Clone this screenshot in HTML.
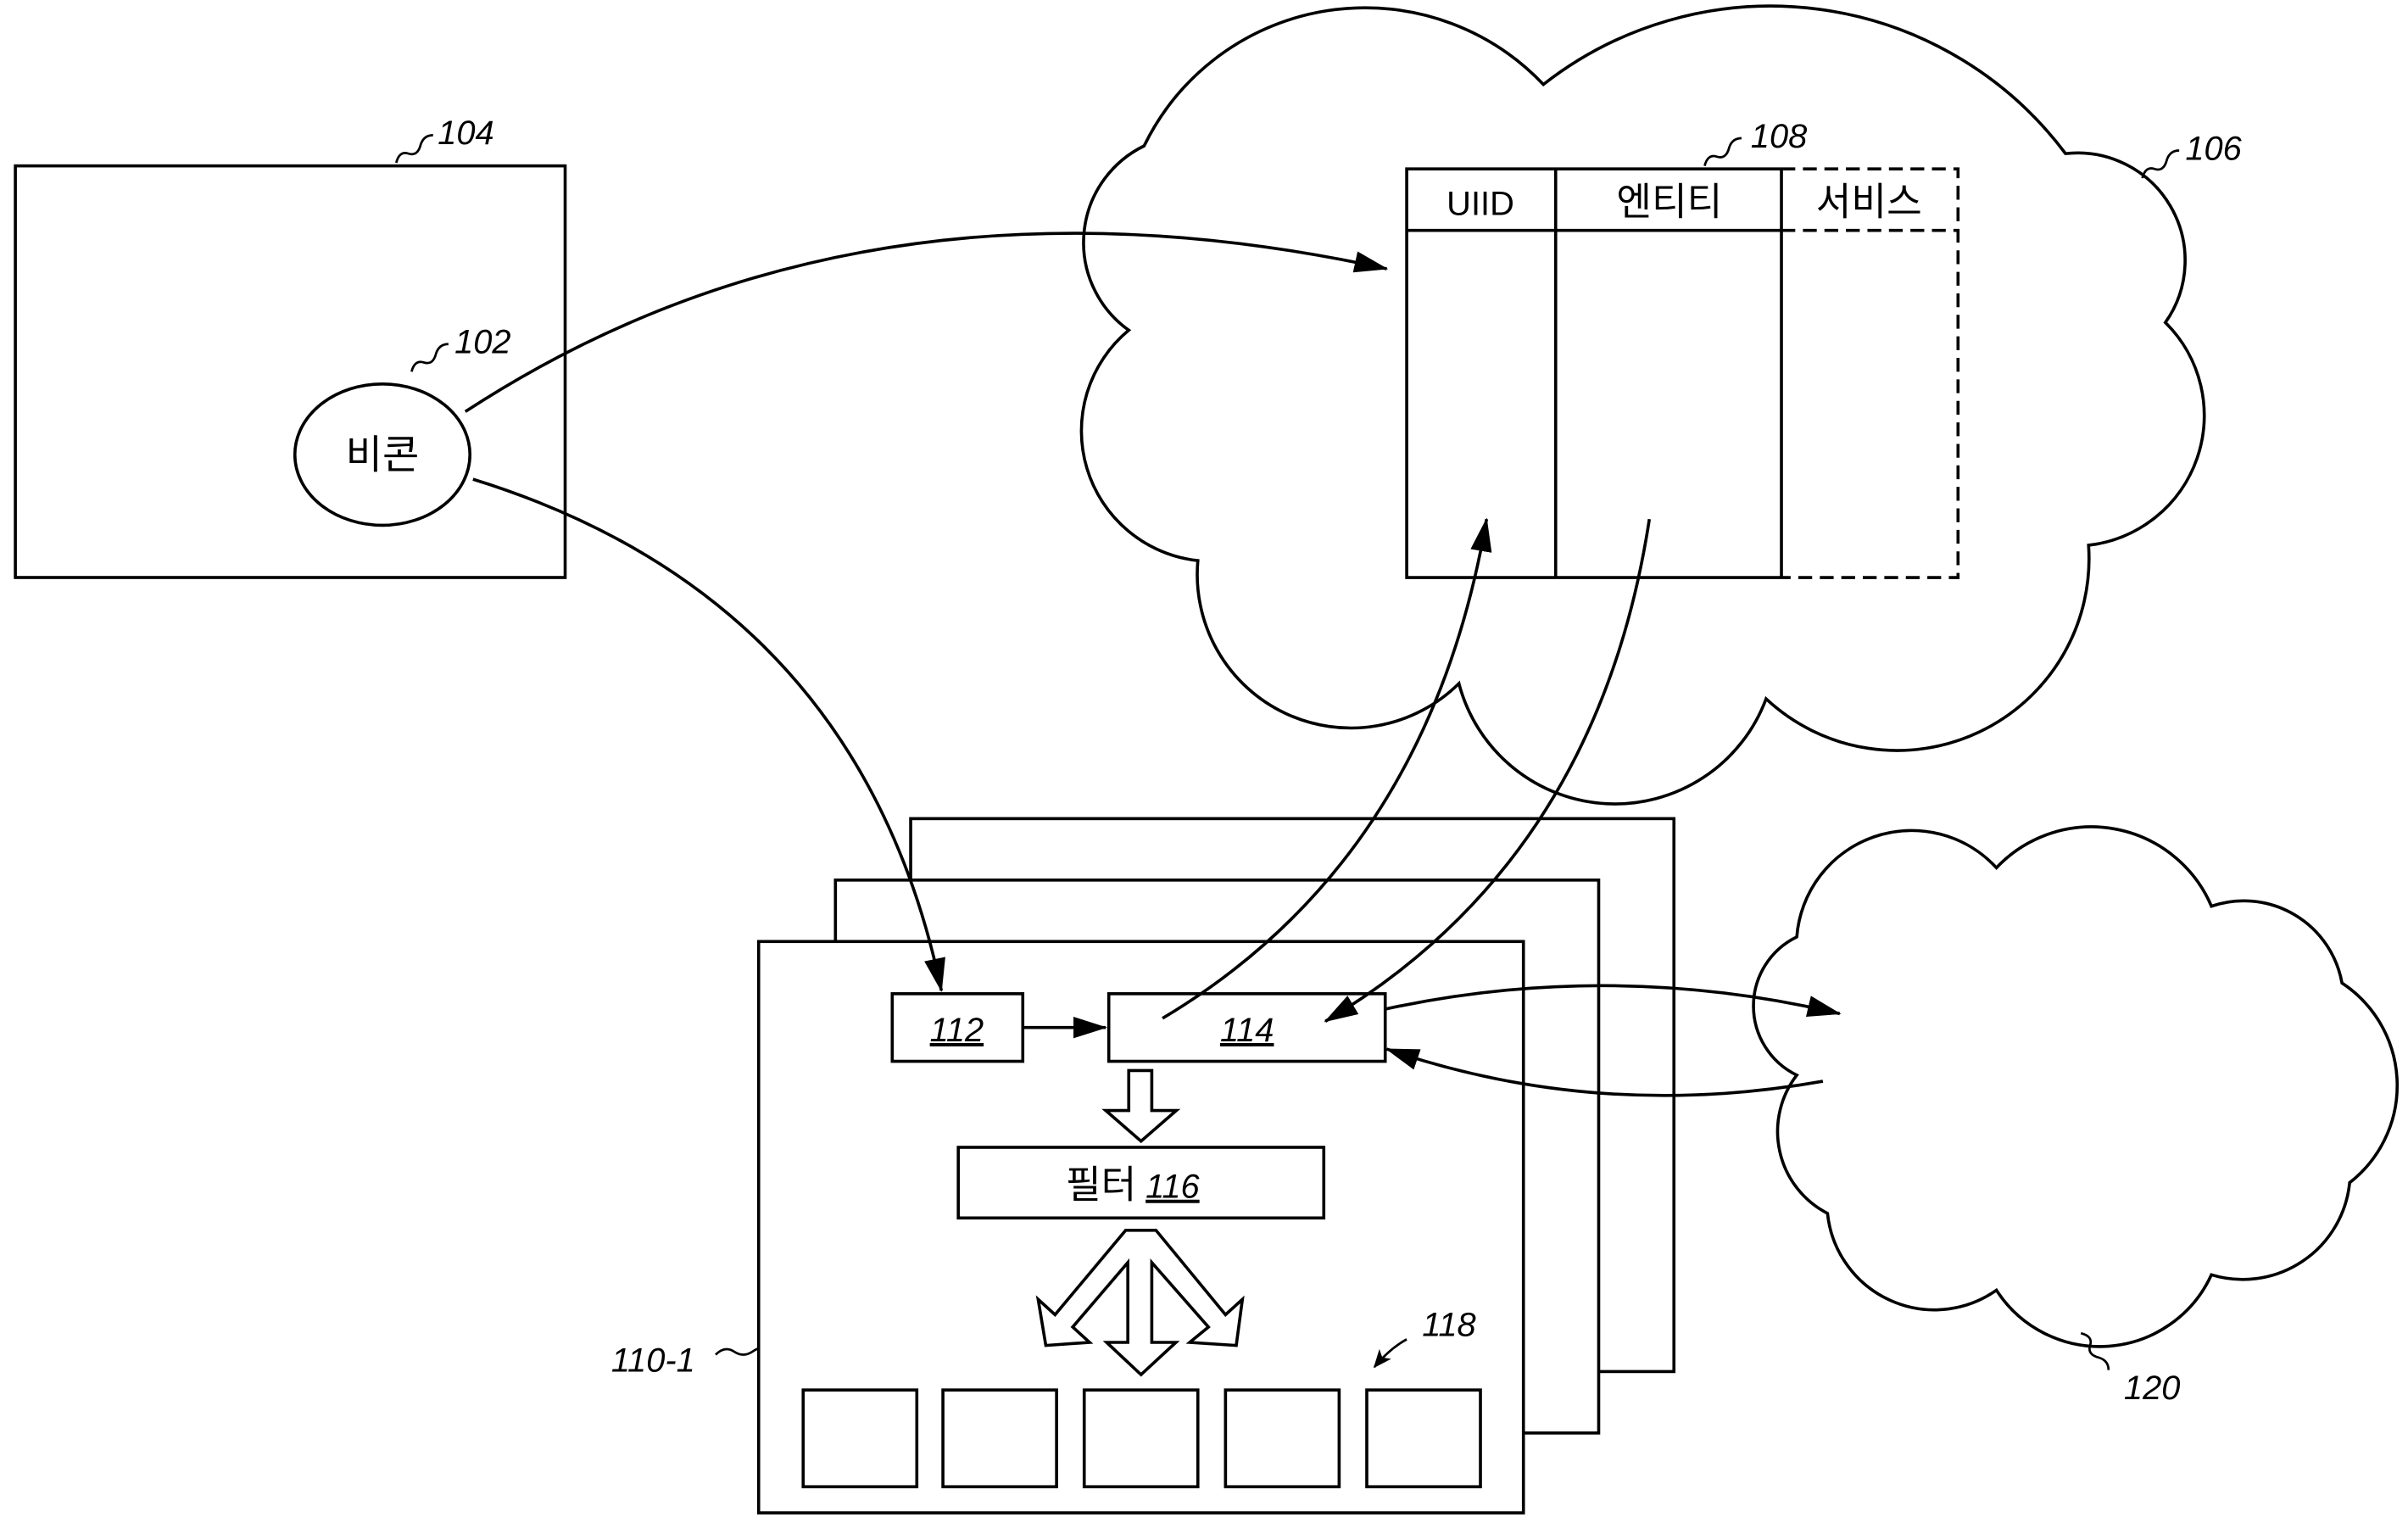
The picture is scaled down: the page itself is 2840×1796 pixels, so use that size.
<!DOCTYPE html>
<html><head><meta charset="utf-8"><style>
html,body{margin:0;padding:0;background:#fff}
svg{display:block}
text{font-family:"Liberation Sans","Noto Sans CJK KR",sans-serif;fill:#000}
.lb{font-style:italic;font-size:22px}
</style></head><body>
<svg width="2840" height="1796" viewBox="0 0 1568 991.6" preserveAspectRatio="none" xmlns="http://www.w3.org/2000/svg">
<defs>
<marker id="a" markerWidth="12" markerHeight="10" refX="11" refY="5" orient="auto" markerUnits="userSpaceOnUse"><path d="M0,0 L12,5 L0,10 L3,5 Z" fill="#000"/></marker>
<marker id="b" markerWidth="22" markerHeight="14" refX="21" refY="7" orient="auto" markerUnits="userSpaceOnUse"><path d="M0,0 L22,7 L0,14 Z" fill="#000"/></marker>
</defs>
<g fill="none" stroke="#000" stroke-width="2">
<path d="M745,95 A160,160 0 0 1 1005,55 A240,240 0 0 1 1345,100 A70,70 0 0 1 1410,210 A85,85 0 0 1 1360,355 A125,125 0 0 1 1150,455 A105,105 0 0 1 950,445 A100,100 0 0 1 780,365 A85,85 0 0 1 735,215 A70,70 0 0 1 745,95 Z" fill="#fff"/>
<path d="M1170,610 A75,75 0 0 1 1300,565 A85,85 0 0 1 1440,590 A65,65 0 0 1 1525,640 A80,80 0 0 1 1530,770 A70,70 0 0 1 1440,830 A80,80 0 0 1 1300,840 A70,70 0 0 1 1190,790 A60,60 0 0 1 1170,700 A50,50 0 0 1 1170,610 Z" fill="#fff"/>
<rect x="10" y="108" width="358" height="268"/>
<ellipse cx="249" cy="296" rx="57" ry="46"/>
<path d="M1160,110 H916 V376 H1160"/>
<line x1="916" y1="150" x2="1160" y2="150"/>
<line x1="1013" y1="110" x2="1013" y2="376"/>
<line x1="1160" y1="110" x2="1160" y2="376"/>
<path d="M1160,110 H1275 V376 H1160 M1160,150 H1275" stroke-dasharray="9,5"/>
<rect x="593" y="533" width="497" height="360" fill="#fff"/>
<rect x="544" y="573" width="497" height="360" fill="#fff"/>
<rect x="494" y="613" width="498" height="372" fill="#fff"/>
<rect x="581" y="647" width="85" height="44"/>
<rect x="722" y="647" width="180" height="44"/>
<rect x="624" y="747" width="238" height="46"/>
<rect x="523" y="905" width="74" height="63"/>
<rect x="614" y="905" width="74" height="63"/>
<rect x="706" y="905" width="74" height="63"/>
<rect x="798" y="905" width="74" height="63"/>
<rect x="890" y="905" width="74" height="63"/>
<path d="M735,697 H750 V723 H766 L743,743 L720,723 H735 Z"/>
<path d="M733,801 L687,856 L676,846 L681,876 L709.5,874 L698.5,864 L734.4,822 V874 H720.6 L743,895 L765.7,874 H750 V822 L786.9,864 L774.7,874 L805,876 L809,846 L798,856 L752.7,801 Z"/>
<path d="M303,268 Q560,100 903,175" marker-end="url(#b)"/>
<path d="M308,312 Q560,390 613,645" marker-end="url(#b)"/>
<path d="M666,669 H720" marker-end="url(#b)"/>
<path d="M757,663 Q930,560 968,338" marker-end="url(#b)"/>
<path d="M1074,338 Q1040,560 863,665" marker-end="url(#b)"/>
<path d="M902,657 Q1050,625 1198,660" marker-end="url(#b)"/>
<path d="M1187,704 Q1040,730 903,683" marker-end="url(#b)"/>
<path d="M258,106 q2,-8 8,-6 q6,2 8,-6 q2,-6 8,-6" stroke-width="1.5"/>
<path d="M268,242 q2,-8 8,-6 q6,2 8,-6 q2,-6 8,-6" stroke-width="1.5"/>
<path d="M1110,108 q2,-8 8,-6 q6,2 8,-6 q2,-6 8,-6" stroke-width="1.5"/>
<path d="M1395,116 q2,-8 8,-6 q6,2 8,-6 q2,-6 8,-6" stroke-width="1.5"/>
<path d="M466,882 q6,-6 12,-2 q6,4 12,0 q3,-2 4,-2" stroke-width="1.5"/>
<path d="M1355,868 q8,2 6,8 q-2,6 6,8 q6,2 6,8" stroke-width="1.5"/>
<path d="M916,872 Q905,878 895,890" stroke-width="1.5" marker-end="url(#a)"/>
</g>
<text x="249" y="305" font-size="26" text-anchor="middle">비콘</text>
<text x="964" y="140" font-size="22" text-anchor="middle">UIID</text>
<text x="1087" y="140" font-size="25" text-anchor="middle">엔티티</text>
<text x="1217" y="140" font-size="25" text-anchor="middle">서비스</text>
<text x="623" y="678" class="lb" text-anchor="middle" text-decoration="underline">112</text>
<text x="812" y="678" class="lb" text-anchor="middle" text-decoration="underline">114</text>
<text x="694" y="780" font-size="25">필터</text>
<text x="746" y="780" class="lb" font-size="24" text-decoration="underline">116</text>
<text x="285" y="94" class="lb">104</text>
<text x="296" y="230" class="lb">102</text>
<text x="1140" y="96" class="lb">108</text>
<text x="1423" y="104" class="lb">106</text>
<text x="398" y="893" class="lb">110-1</text>
<text x="926" y="870" class="lb">118</text>
<text x="1383" y="911" class="lb">120</text>
</svg>
</body></html>
